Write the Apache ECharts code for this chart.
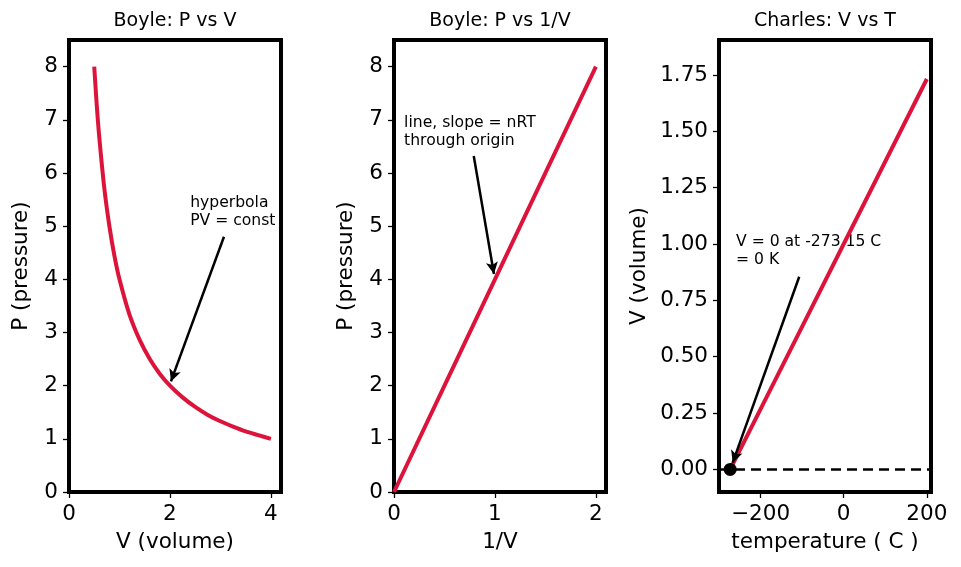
<!DOCTYPE html>
<html>
<head>
<meta charset="utf-8">
<script src="https://cdn.jsdelivr.net/npm/echarts@6/dist/echarts.min.js"></script>
<style>
  html, body { margin: 0; padding: 0; background: #fff; }
  #chart { width: 961px; height: 567px; }
</style>
</head>
<body>
<div id="chart"></div>
<script>
// Boyle: P vs V (hyperbola)
const boyleV = [0.5, 0.55, 0.6, 0.7, 0.8, 0.9, 1.0, 1.2, 1.4, 1.6, 1.8, 2.0, 2.25, 2.5, 2.75, 3.0, 3.25, 3.5, 3.75, 4.0];
const boyleP = [8.0, 7.27, 6.67, 5.71, 5.0, 4.44, 4.0, 3.33, 2.86, 2.5, 2.22, 2.0, 1.78, 1.6, 1.45, 1.33, 1.23, 1.14, 1.07, 1.0];

// Boyle: P vs 1/V (straight line through origin)
const invV = [0, 0.5, 1.0, 1.5, 2.0];
const invP = [0, 2.0, 4.0, 6.0, 8.0];

// Charles: V vs T
const tempC = [-273.15, -200, -100, 0, 100, 200];
const charlesV = [0, 0.268, 0.634, 1.0, 1.366, 1.732];
const absZero = [[-273.15, 0]];

// tick labels
const pTicks = [0, 1, 2, 3, 4, 5, 6, 7, 8];
const vTicks = [0, 2, 4];
const invTicks = [0, 1, 2];
const tTicks = [-200, 0, 200];
const cvTicks = [0, 0.25, 0.5, 0.75, 1.0, 1.25, 1.5, 1.75];

const FONT = 'DejaVu Sans';
const RED = '#dc143c';

const chart = echarts.init(document.getElementById('chart'), null, { renderer: 'canvas' });

const grids = [
  { left: 69, top: 40, width: 212, height: 452 },
  { left: 394, top: 40, width: 212, height: 452 },
  { left: 719, top: 40, width: 212, height: 452 },
].map(g => ({ ...g, show: true, borderColor: '#000', borderWidth: 4, backgroundColor: '#fff' }));

function axis(idx, opts) {
  return {
    gridIndex: idx,
    type: 'value',
    axisLine: { show: false, onZero: false },
    splitLine: { show: false },
    axisTick: { show: true, inside: false, length: 6, customValues: opts.ticks, lineStyle: { color: '#000', width: 1.3 } },
    axisLabel: {
      show: true, customValues: opts.ticks, margin: 11,
      color: '#000', fontFamily: FONT, fontSize: 21.5,
      formatter: opts.fmt || (v => (v < 0 ? '\u2212' + Math.abs(v) : String(v))),
    },
    nameLocation: 'middle',
    nameTextStyle: { color: '#000', fontFamily: FONT, fontSize: 21.5 },
    ...opts.rest,
  };
}

const xAxes = [
  axis(0, { ticks: vTicks, rest: { min: 0, max: 4.2, name: 'V (volume)', nameGap: 39 } }),
  axis(1, { ticks: invTicks, rest: { min: 0, max: 2.1, name: '1/V', nameGap: 39 } }),
  axis(2, { ticks: tTicks, rest: { min: -300, max: 210, name: 'temperature ( C )', nameGap: 39 } }),
];
const yAxes = [
  axis(0, { ticks: pTicks, rest: { min: 0, max: 8.5, name: 'P (pressure)', nameGap: 37 } }),
  axis(1, { ticks: pTicks, rest: { min: 0, max: 8.5, name: 'P (pressure)', nameGap: 37 } }),
  axis(2, { ticks: cvTicks, fmt: v => v.toFixed(2), rest: { min: -0.1, max: 1.905, name: 'V (volume)', nameGap: 69 } }),
];

function arrow(from, to) {
  return {
    silent: true,
    symbol: ['none', 'arrow'],
    symbolSize: [9, 12],
    label: { show: false },
    lineStyle: { color: '#000', width: 2.5, type: 'solid' },
    data: [[{ coord: from }, { coord: to }]],
  };
}

const redLine = {
  type: 'line', showSymbol: false, symbol: 'none',
  lineStyle: { color: RED, width: 4 }, animation: false, z: 3,
};

const titles = [
  { text: 'Boyle: P vs V', cx: 175 },
  { text: 'Boyle: P vs 1/V', cx: 500 },
  { text: 'Charles: V vs T', cx: 825 },
];

chart.setOption({
  animation: false,
  backgroundColor: '#fff',
  textStyle: { fontFamily: FONT },
  grid: grids,
  xAxis: xAxes,
  yAxis: yAxes,
  series: [
    {
      ...redLine, xAxisIndex: 0, yAxisIndex: 0, smooth: 0.3,
      data: boyleV.map((v, i) => [v, boyleP[i]]),
      markLine: arrow([3.07, 4.8], [2.02, 2.08]),
    },
    {
      ...redLine, xAxisIndex: 1, yAxisIndex: 1,
      data: invV.map((v, i) => [v, invP[i]]),
      markLine: arrow([0.79, 6.32], [0.99, 4.1]),
    },
    {
      ...redLine, xAxisIndex: 2, yAxisIndex: 2,
      data: tempC.map((t, i) => [t, charlesV[i]]),
      markLine: {
        silent: true, symbol: ['none', 'none'], label: { show: false },
        lineStyle: { color: '#000', width: 2.5, type: [10, 6] },
        data: [{ yAxis: 0 }],
      },
    },
    {
      type: 'scatter', xAxisIndex: 2, yAxisIndex: 2, z: 5,
      symbolSize: 13, itemStyle: { color: '#000', opacity: 1 },
      data: absZero,
      markLine: arrow([-107, 0.855], [-267, 0.03]),
    },
  ],
});

// annotation texts and titles, placed through the axes' own scales
const notes = [
  { grid: 0, at: [2.4, 4.93], text: 'hyperbola\nPV = const' },
  { grid: 1, at: [0.1, 6.43], text: 'line, slope = nRT\nthrough origin' },
  { grid: 2, at: [-259, 0.89], text: 'V = 0 at -273.15 C\n= 0 K' },
];

const graphic = notes.map(n => {
  const [x, y] = chart.convertToPixel({ gridIndex: n.grid }, n.at);
  return {
    type: 'text', x, y, z: 1,
    style: { text: n.text, fill: '#000', font: '15.6px "DejaVu Sans"', lineHeight: 18, textAlign: 'left', textVerticalAlign: 'bottom' },
  };
}).concat(titles.map(t => ({
  type: 'text', x: t.cx, y: 21, z: 1,
  style: { text: t.text, fill: '#000', font: '19px "DejaVu Sans"', textAlign: 'center', textVerticalAlign: 'middle' },
})));

chart.setOption({ graphic });
</script>
</body>
</html>
